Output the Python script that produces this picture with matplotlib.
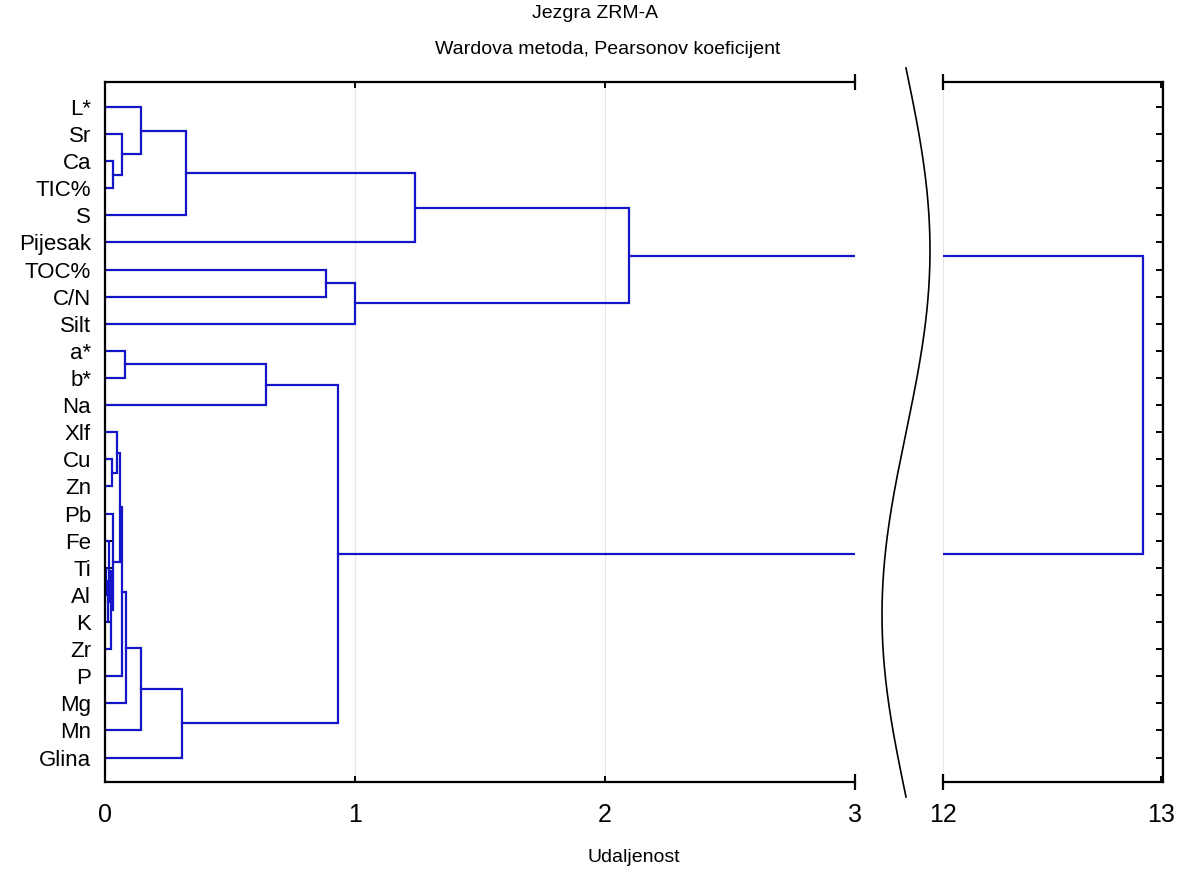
import numpy as np
import matplotlib.pyplot as plt
from matplotlib.lines import Line2D

plt.rcParams['font.family'] = ['Liberation Sans', 'DejaVu Sans']

# listovi odozgo prema dolje
leaves = ['L*', 'Sr', 'Ca', 'TIC%', 'S', 'Pijesak', 'TOC%', 'C/N', 'Silt',
          'a*', 'b*', 'Na', 'Xlf', 'Cu', 'Zn', 'Pb', 'Fe', 'Ti', 'Al', 'K',
          'Zr', 'P', 'Mg', 'Mn', 'Glina']

# spajanja: (lijevo, desno, udaljenost), klaster k dobiva ime "c<k>"
merge_a = ['Ti', 'c0', 'Fe', 'c2', 'Pb', 'Cu', 'Xlf', 'c6', 'c7', 'c8', 'c9', 'c10',
           'a*', 'c12', 'c13', 'Ca', 'Sr', 'L*', 'c17', 'c18', 'TOC%', 'c20', 'c19', 'c22']
merge_b = ['Al', 'K', 'c1', 'Zr', 'c3', 'Zn', 'c5', 'c4', 'P', 'Mg', 'Mn', 'Glina',
           'b*', 'Na', 'c11', 'TIC%', 'c15', 'c16', 'S', 'Pijesak', 'C/N', 'Silt', 'c21', 'c14']
merge_h = [0.005, 0.010, 0.015, 0.022, 0.030, 0.027, 0.048, 0.060, 0.068, 0.084, 0.143, 0.307,
           0.080, 0.645, 0.930, 0.030, 0.068, 0.145, 0.322, 1.240, 0.885, 1.000, 2.095, 12.92]

W, H = 1185, 875
fig = plt.figure(figsize=(W / 100, H / 100), dpi=100)
ax1 = fig.add_axes([105 / W, 1 - 782 / H, 750 / W, 700 / H])
ax2 = fig.add_axes([943 / W, 1 - 782 / H, 220 / W, 700 / H])

blue = '#1414c8'
pos = {name: i for i, name in enumerate(leaves)}
hgt = {name: 0.0 for name in leaves}
for k, (a, b, h) in enumerate(zip(merge_a, merge_b, merge_h)):
    for ax in (ax1, ax2):
        ax.plot([hgt[a], h, h, hgt[b]], [pos[a], pos[a], pos[b], pos[b]],
                color=blue, lw=1.6, solid_joinstyle='miter')
    pos['c%d' % k] = (pos[a] + pos[b]) / 2
    hgt['c%d' % k] = h

ax1.set_xlim(0, 3)
ax2.set_xlim(12, 13.01)
for ax in (ax1, ax2):
    ax.set_ylim(len(leaves) - 0.1, -0.92)
    ax.grid(axis='x', color='#e6e6e6', lw=0.8)
    ax.set_axisbelow(True)
    for s in ax.spines.values():
        s.set_linewidth(1.6)
    ax.tick_params(axis='x', direction='in', length=4, width=1.4, labelsize=18, pad=15,
                   top=True)
    ax.tick_params(axis='y', direction='in', length=5, width=1.4)

ax1.set_xticks([0, 1, 2, 3])
ax2.set_xticks([12, 13])
ax1.spines['right'].set_visible(False)
ax2.spines['left'].set_visible(False)
ax1.set_yticks(range(len(leaves)))
ax1.set_yticklabels(leaves, fontsize=16)
ax1.tick_params(axis='y', pad=10)
ax2.set_yticks(range(len(leaves)))
ax2.tick_params(axis='y', left=False, right=True, labelleft=False)

# zavrsne oznake na prekidu osi
ax1.plot([1, 1], [0, 1], '|', color='black', ms=12, mew=1.6, transform=ax1.transAxes, clip_on=False)
ax2.plot([0, 0], [0, 1], '|', color='black', ms=12, mew=1.6, transform=ax2.transAxes, clip_on=False)

# krivulja prekida
t = np.linspace(0, 1, 200)
yy = 68 + t * (797 - 68)
xx = 906 + 24 * np.sin(2 * np.pi * t)
fig.add_artist(Line2D(xx / W, 1 - yy / H, color='black', lw=1.2))

fig.text(595 / W, 1 - 13 / H, 'Jezgra ZRM-A', ha='center', va='center', fontsize=14)
fig.text(608 / W, 1 - 50 / H, 'Wardova metoda, Pearsonov koeficijent', ha='center', va='center', fontsize=14)
fig.text(634 / W, 1 - 858 / H, 'Udaljenost', ha='center', va='center', fontsize=14)

fig.savefig('out.png', dpi=100)
